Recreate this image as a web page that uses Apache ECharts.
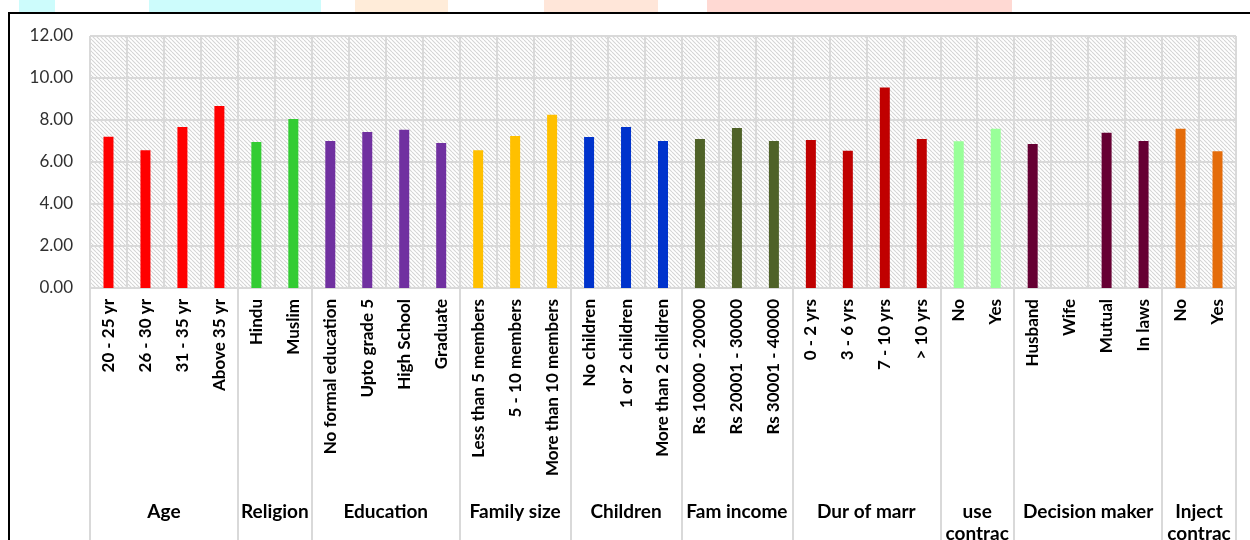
<!DOCTYPE html>
<html>
<head>
<meta charset="utf-8">
<script src="https://cdn.jsdelivr.net/npm/echarts@6/dist/echarts.min.js"></script>
<style>
  html, body { margin: 0; padding: 0; background: #ffffff; }
  #chart { width: 1250px; height: 540px; }
</style>
</head>
<body>
<div id="chart"></div>
<script>
// Category labels, in drawing order
const categories = [
  '20 - 25 yr', '26 - 30 yr', '31 - 35 yr', 'Above 35 yr',
  'Hindu', 'Muslim',
  'No formal education', 'Upto grade 5', 'High School', 'Graduate',
  'Less than 5 members', '5 - 10 members', 'More than 10 members',
  'No children', '1 or 2 children', 'More than 2 children',
  'Rs 10000 - 20000', 'Rs 20001 - 30000', 'Rs 30001 - 40000',
  '0 - 2 yrs', '3 - 6 yrs', '7 - 10 yrs', '> 10 yrs',
  'No', 'Yes',
  'Husband', 'Wife', 'Mutual', 'In laws',
  'No', 'Yes'
];

// Mean scores per category (null = no bar)
const values = [
  7.20, 6.56, 7.67, 8.67,
  6.95, 8.05,
  7.00, 7.43, 7.53, 6.91,
  6.56, 7.24, 8.25,
  7.19, 7.67, 7.00,
  7.10, 7.62, 7.00,
  7.05, 6.53, 9.55, 7.10,
  6.99, 7.58,
  6.86, null, 7.39, 7.00,
  7.58, 6.51
];

// Group headings and how many categories each spans
const groupNames = ['Age', 'Religion', 'Education', 'Family size', 'Children',
  'Fam income', 'Dur of marr', 'use\ncontrac', 'Decision maker', 'Inject\ncontrac'];
const groupSizes = [4, 2, 4, 3, 3, 3, 4, 2, 4, 2];
const groupColors = ['#FF0000', '#33CC33', '#7030A0', '#FFC000', '#0033CC',
  '#4F6228', '#C00000', '#99FF99', '#660033', '#E46C0A'];

// Y axis ticks
const yTicks = [0, 2, 4, 6, 8, 10, 12];

// Derived: group boundaries, centres and per-bar colours
const bounds = [0];
groupSizes.forEach(n => bounds.push(bounds[bounds.length - 1] + n));
const centers = groupSizes.map((n, i) => bounds[i] + n / 2);
const barColors = [];
groupSizes.forEach((n, i) => { for (let k = 0; k < n; k++) barColors.push(groupColors[i]); });

// Light diagonal hatch used as the plot background
function hatchPattern() {
  const s = 4;
  const c = document.createElement('canvas');
  c.width = s; c.height = s;
  const g = c.getContext('2d');
  g.fillStyle = '#ffffff';
  g.fillRect(0, 0, s, s);
  g.strokeStyle = '#d4d4d4';
  g.lineWidth = 1.1;
  for (const k of [-s, 0, s]) {
    g.beginPath();
    g.moveTo(k, 0);
    g.lineTo(k + s, s);
    g.stroke();
  }
  return c;
}

const FONT = 'Lato';
const GRID_COLOR = '#d9d9d9';

const chart = echarts.init(document.getElementById('chart'), null, { renderer: 'canvas' });

chart.setOption({
  animation: false,
  backgroundColor: '#ffffff',
  grid: {
    left: 90, right: 14, top: 36, bottom: 252,
    outerBoundsMode: 'none',
    containLabel: false,
    show: true,
    borderWidth: 0,
    backgroundColor: { image: hatchPattern(), repeat: 'repeat' }
  },
  xAxis: [
    {
      type: 'category',
      data: categories,
      position: 'bottom',
      axisLine: { show: true, lineStyle: { color: GRID_COLOR, width: 2 } },
      axisTick: { show: false },
      splitLine: { show: true, lineStyle: { color: GRID_COLOR, width: 2 } },
      axisLabel: {
        rotate: 90,
        interval: 0,
        margin: 11,
        fontFamily: FONT,
        fontSize: 17,
        fontWeight: 'bold',
        color: '#000000'
      }
    },
    {
      type: 'value',
      min: 0,
      max: categories.length,
      position: 'bottom',
      axisLine: { show: false },
      splitLine: { show: false },
      axisTick: {
        show: true,
        customValues: bounds,
        length: 252,
        lineStyle: { color: GRID_COLOR, width: 2 }
      },
      axisLabel: {
        customValues: centers,
        margin: 213,
        fontFamily: FONT,
        fontSize: 19,
        fontWeight: 'bold',
        lineHeight: 22,
        color: '#000000',
        verticalAlign: 'top',
        formatter: v => {
          const i = centers.findIndex(c => Math.abs(c - v) < 1e-6);
          return i >= 0 ? groupNames[i] : '';
        }
      }
    }
  ],
  yAxis: {
    type: 'value',
    min: yTicks[0],
    max: yTicks[yTicks.length - 1],
    interval: yTicks[1] - yTicks[0],
    axisLine: { show: false },
    axisTick: { show: false },
    splitLine: { show: true, lineStyle: { color: GRID_COLOR, width: 2 } },
    axisLabel: {
      margin: 17,
      fontFamily: FONT,
      fontSize: 17,
      color: '#303030',
      formatter: v => v.toFixed(2)
    }
  },
  series: [{
    type: 'bar',
    xAxisIndex: 0,
    barWidth: 10,
    data: values.map((v, i) => ({ value: v, itemStyle: { color: barColors[i] } }))
  }],
  graphic: [
    // pastel strip along the top edge
    { type: 'rect', shape: { x: 19, y: 0, width: 36, height: 12 }, style: { fill: '#CDFCFC' }, silent: true },
    { type: 'rect', shape: { x: 149, y: 0, width: 172, height: 12 }, style: { fill: '#CDFCFC' }, silent: true },
    { type: 'rect', shape: { x: 355, y: 0, width: 93, height: 12 }, style: { fill: '#FFECD9' }, silent: true },
    { type: 'rect', shape: { x: 544, y: 0, width: 114, height: 12 }, style: { fill: '#FFE6D9' }, silent: true },
    { type: 'rect', shape: { x: 707, y: 0, width: 305, height: 12 }, style: { fill: '#FFD9D3' }, silent: true },
    // outer frame
    { type: 'line', shape: { x1: 8, y1: 13, x2: 1250, y2: 13 }, style: { stroke: '#000000', lineWidth: 2 }, silent: true },
    { type: 'line', shape: { x1: 9, y1: 12, x2: 9, y2: 540 }, style: { stroke: '#000000', lineWidth: 2 }, silent: true }
  ]
});
</script>
</body>
</html>
